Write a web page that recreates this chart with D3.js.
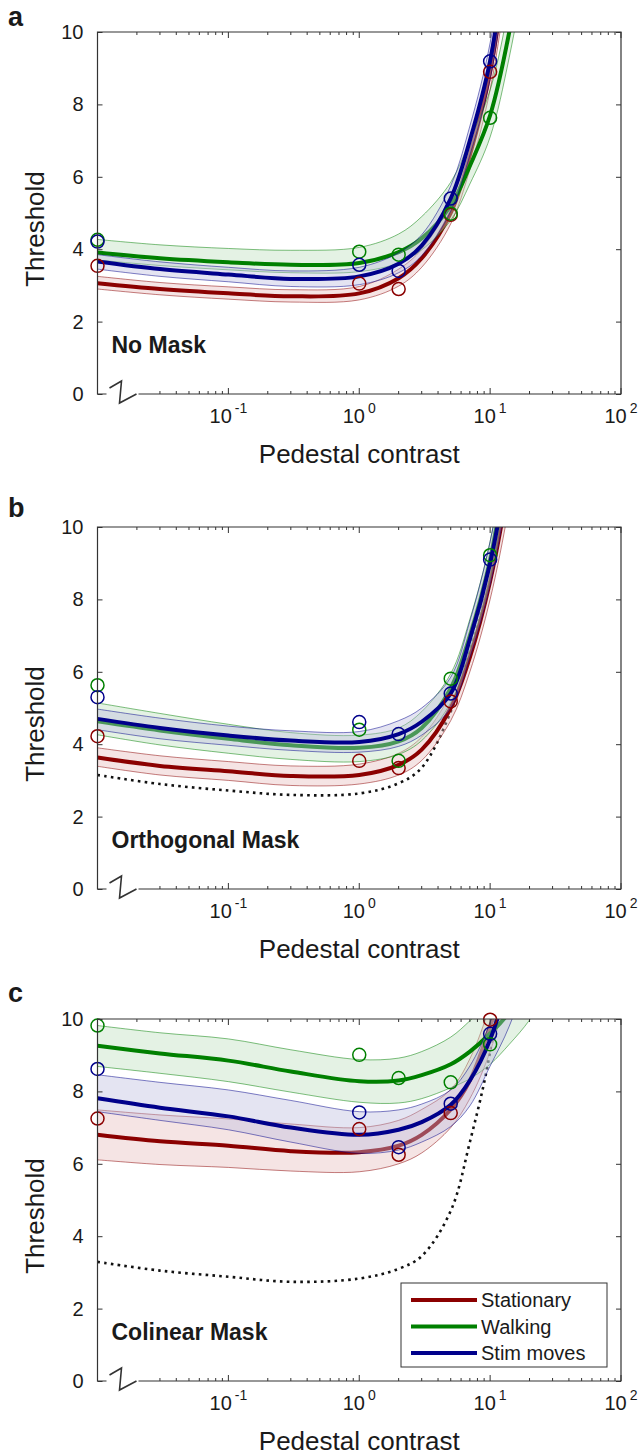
<!DOCTYPE html>
<html>
<head>
<meta charset="utf-8">
<script src="https://cdn.jsdelivr.net/npm/d3@7"></script>
<style>
  body { margin: 0; background: #fff; }
  svg text { font-family: "Liberation Sans", Arial, Helvetica, sans-serif; fill: #1a1a1a; }
</style>
</head>
<body>
<div id="chart"></div>
<script>
const contrasts = [0.01, 0.03, 0.1, 0.3, 1, 2, 3, 5, 7, 10, 14, 20, 30];
// pedestal contrasts of the measured points (0 sits on the left edge)
const pedestals = [0, 1, 2, 5, 10];
const conditions = ["Stationary", "Walking", "Stim moves"];
const panelLetters = ["a", "b", "c"];
const panelTitles = ["No Mask", "Orthogonal Mask", "Colinear Mask"];
const yTicks = [0, 2, 4, 6, 8, 10];
const xTickExps = [-1, 0, 1, 2];

// series order in each panel: Stationary, Walking, Stim moves
// panel a - no mask
const aMean = [
    [3.06, 2.9, 2.78, 2.7, 2.78, 3.2, 3.75, 5.0, 6.6, 8.9, 12.5, 17, 24],
    [3.91, 3.75, 3.64, 3.57, 3.62, 3.92, 4.3, 5.2, 6.3, 7.7, 10.0, 13.5, 19],
    [3.66, 3.45, 3.3, 3.18, 3.25, 3.6, 4.1, 5.4, 7.0, 9.2, 12.8, 17, 24]
];
const aUpper = [
    [3.25, 3.08, 2.96, 2.88, 2.97, 3.45, 4.0, 5.3, 7.0, 9.4, 13.2, 18, 25],
    [4.27, 4.12, 4.02, 3.97, 4.05, 4.42, 4.9, 5.85, 7.0, 8.4, 10.8, 14.5, 20],
    [3.85, 3.65, 3.5, 3.4, 3.5, 3.9, 4.4, 5.75, 7.4, 9.7, 13.4, 18, 25]
];
const aLower = [
    [2.9, 2.74, 2.62, 2.54, 2.6, 2.98, 3.5, 4.7, 6.2, 8.4, 11.8, 16, 23],
    [3.7, 3.55, 3.43, 3.35, 3.38, 3.62, 3.98, 4.8, 5.8, 7.1, 9.3, 12.5, 18],
    [3.45, 3.25, 3.1, 2.97, 3.02, 3.35, 3.82, 5.05, 6.6, 8.7, 12.2, 16, 23]
];
const aPoints = [
    [3.54, 3.05, 2.90, 4.95, 8.90],
    [4.26, 3.93, 3.85, 4.98, 7.63],
    [4.21, 3.57, 3.40, 5.40, 9.19]
];

// panel b - orthogonal mask
const bMean = [
    [3.63, 3.4, 3.25, 3.12, 3.15, 3.43, 3.85, 5.0, 6.4, 8.5, 11.3, 15, 21],
    [4.63, 4.38, 4.15, 3.97, 3.9, 4.08, 4.45, 5.55, 7.0, 9.1, 12.2, 16, 22],
    [4.7, 4.45, 4.24, 4.1, 4.06, 4.28, 4.62, 5.4, 6.9, 9.0, 11.9, 15.5, 21]
];
const bUpper = [
    [3.9, 3.68, 3.52, 3.4, 3.45, 3.75, 4.2, 5.4, 6.9, 9.1, 12.1, 16, 22],
    [5.14, 4.85, 4.55, 4.32, 4.25, 4.45, 4.9, 5.95, 7.45, 9.6, 12.9, 17, 23],
    [4.97, 4.72, 4.5, 4.37, 4.35, 4.65, 5.0, 5.85, 7.4, 9.6, 12.6, 16.5, 22]
];
const bLower = [
    [3.39, 3.15, 3.0, 2.86, 2.9, 3.15, 3.55, 4.65, 6.0, 8.0, 10.6, 14, 20],
    [4.26, 3.98, 3.75, 3.58, 3.52, 3.72, 4.1, 5.15, 6.6, 8.6, 11.6, 15, 21],
    [4.4, 4.15, 3.97, 3.83, 3.78, 3.94, 4.25, 5.0, 6.4, 8.4, 11.2, 14.5, 20]
];
const bPoints = [
    [4.22, 3.54, 3.34, 5.18, null],
    [5.63, 4.40, 3.54, 5.81, 9.22],
    [5.30, 4.61, 4.28, 5.40, 9.10]
];
const bDotted = [3.15, 2.9, 2.72, 2.6, 2.64, 2.92, 3.35, 4.9, 6.6, 9.0, 13, 18, 26];

// panel c - colinear mask
const cMean = [
    [6.8, 6.62, 6.5, 6.35, 6.32, 6.5, 6.8, 7.5, 8.3, 9.8, 11.5, 15, 21],
    [9.26, 9.05, 8.85, 8.55, 8.28, 8.3, 8.45, 8.75, 9.1, 9.6, 10.2, 11.5, 14],
    [7.81, 7.55, 7.31, 7.0, 6.8, 6.94, 7.15, 7.63, 8.3, 9.43, 11.2, 14, 18]
];
const cUpper = [
    [7.49, 7.35, 7.24, 7.1, 7.0, 7.2, 7.5, 8.05, 8.9, 10.4, 12.5, 16, 22],
    [9.82, 9.62, 9.45, 9.15, 8.88, 8.92, 9.1, 9.5, 9.95, 10.5, 11.3, 12.5, 15],
    [8.46, 8.25, 8.04, 7.75, 7.44, 7.49, 7.65, 8.04, 8.7, 9.9, 11.8, 15, 19]
];
const cLower = [
    [6.11, 5.98, 5.9, 5.8, 5.78, 6.0, 6.3, 7.0, 7.8, 9.1, 11.0, 14, 20],
    [8.69, 8.5, 8.27, 7.98, 7.7, 7.68, 7.8, 8.1, 8.35, 8.75, 9.3, 9.97, 11],
    [7.44, 7.2, 6.94, 6.6, 6.29, 6.38, 6.6, 7.03, 7.6, 8.7, 9.8, 11.5, 15]
];
const cPoints = [
    [7.25, 6.96, 6.25, 7.40, 9.98],
    [9.82, 9.01, 8.37, 8.25, 9.30],
    [8.62, 7.42, 6.46, 7.66, 9.59]
];
const cDotted = [3.29, 3.05, 2.88, 2.74, 2.83, 3.1, 3.45, 4.7, 6.6, 9.1, 13.5, 20, 30];

const panels = [
    { mean: aMean, upper: aUpper, lower: aLower, points: aPoints, dotted: null },
    { mean: bMean, upper: bUpper, lower: bLower, points: bPoints, dotted: bDotted },
    { mean: cMean, upper: cUpper, lower: cLower, points: cPoints, dotted: cDotted }
];

const colors = ["#8b0000", "#008000", "#00008b"];
const bandFills = ["#e6bbbb", "#bbdebb", "#bbbbde"];

const svgWidth = 639;
const svgHeight = 1455;
const plotLeft = 97.5;
const plotRight = 621;
const panelTops = [32, 527, 1019];
const letterBaselines = [26, 517, 1002];
const plotHeight = 362;
const axisColor = "#333";

const svg = d3.select("#chart")
    .append("svg")
    .attr("width", svgWidth)
    .attr("height", svgHeight);

const x = d3.scaleLog()
    .domain([0.01, 100])
    .range([plotLeft, plotRight]);

// pedestal 0 is drawn at the left edge of the log axis
const xPed = p => p === 0 ? x(x.domain()[0]) : x(p);

const majorTicks = [0.1, 1, 10, 100];
const minorTicks = [];
[-2, -1, 0, 1].forEach(e => {
    for (let m = 2; m <= 9; m++) minorTicks.push(m * Math.pow(10, e));
});

panels.forEach((panel, i) => {
    const top = panelTops[i];
    const bottom = top + plotHeight;
    const y = d3.scaleLinear().domain([0, 10]).range([bottom, top]);
    const g = svg.append("g");

    svg.append("clipPath")
        .attr("id", "clip" + i)
        .append("rect")
        .attr("x", plotLeft)
        .attr("y", top)
        .attr("width", plotRight - plotLeft)
        .attr("height", plotHeight);

    const lineGen = d3.line()
        .x((d, j) => x(contrasts[j]))
        .y(d => y(d))
        .curve(d3.curveCatmullRom.alpha(0.5));

    const areaGen = d3.area()
        .x(d => x(d.c))
        .y0(d => y(d.lo))
        .y1(d => y(d.hi))
        .curve(d3.curveCatmullRom.alpha(0.5));

    const curves = g.append("g").attr("clip-path", `url(#clip${i})`);

    // reference (dotted) curve
    if (panel.dotted) {
        curves.append("path")
            .datum(panel.dotted)
            .attr("d", lineGen)
            .attr("fill", "none")
            .attr("stroke", "#111")
            .attr("stroke-width", 2.6)
            .attr("stroke-dasharray", "2.6 4.2");
    }

    conditions.forEach((name, s) => {
        const band = contrasts.map((c, j) => ({ c: c, lo: panel.lower[s][j], hi: panel.upper[s][j] }));
        curves.append("path")
            .datum(band)
            .attr("d", areaGen)
            .attr("fill", bandFills[s])
            .attr("fill-opacity", 0.4);

        [panel.upper[s], panel.lower[s]].forEach(edge => {
            curves.append("path")
                .datum(edge)
                .attr("d", lineGen)
                .attr("fill", "none")
                .attr("stroke", colors[s])
                .attr("stroke-opacity", 0.5)
                .attr("stroke-width", 1);
        });

        curves.append("path")
            .datum(panel.mean[s])
            .attr("d", lineGen)
            .attr("fill", "none")
            .attr("stroke", colors[s])
            .attr("stroke-width", 4);

        g.selectAll(null)
            .data(pedestals.map((p, j) => ({ p: p, v: panel.points[s][j] })).filter(d => d.v != null))
            .enter()
            .append("circle")
            .attr("cx", d => xPed(d.p))
            .attr("cy", d => y(d.v))
            .attr("r", 6.5)
            .attr("fill", "none")
            .attr("stroke", colors[s])
            .attr("stroke-width", 1.5);
    });

    // frame (bottom edge has a break near the zero pedestal)
    const frame = g.append("g")
        .attr("fill", "none")
        .attr("stroke", axisColor)
        .attr("stroke-width", 1.2);
    frame.append("path")
        .attr("d", `M${plotLeft + 9},${bottom} L${plotLeft},${bottom} L${plotLeft},${top} L${plotRight},${top} L${plotRight},${bottom} L${plotLeft + 41},${bottom}`);
    frame.append("path")
        .attr("stroke-width", 1.6)
        .attr("d", `M${plotLeft + 12},${bottom - 6} L${plotLeft + 24},${bottom - 13} L${plotLeft + 22},${bottom + 9} L${plotLeft + 39},${bottom}`);

    // ticks pointing inward on all four sides
    const ticks = g.append("g").attr("stroke", axisColor).attr("stroke-width", 1);
    majorTicks.forEach(v => {
        ticks.append("line").attr("x1", x(v)).attr("x2", x(v)).attr("y1", bottom).attr("y2", bottom - 6);
        ticks.append("line").attr("x1", x(v)).attr("x2", x(v)).attr("y1", top).attr("y2", top + 6);
    });
    minorTicks.forEach(v => {
        if (x(v) > plotLeft + 41) {
            ticks.append("line").attr("x1", x(v)).attr("x2", x(v)).attr("y1", bottom).attr("y2", bottom - 3);
        }
        ticks.append("line").attr("x1", x(v)).attr("x2", x(v)).attr("y1", top).attr("y2", top + 3);
    });

    const yAxis = g.append("g")
        .attr("transform", `translate(${plotLeft},0)`)
        .call(d3.axisLeft(y).tickValues(yTicks).tickSize(-5).tickPadding(14).tickFormat(d3.format("d")));
    yAxis.select(".domain").remove();
    yAxis.selectAll(".tick line").attr("stroke", axisColor);
    yAxis.selectAll(".tick text")
        .style("font-size", "20px")
        .attr("fill", "#1a1a1a");

    const yAxisRight = g.append("g")
        .attr("transform", `translate(${plotRight},0)`)
        .call(d3.axisRight(y).tickValues(yTicks).tickSize(-5).tickFormat(""));
    yAxisRight.select(".domain").remove();
    yAxisRight.selectAll(".tick line").attr("stroke", axisColor);

    // x tick labels as powers of ten
    xTickExps.forEach(e => {
        const t = g.append("text")
            .attr("x", x(Math.pow(10, e)))
            .attr("y", bottom + 29)
            .attr("text-anchor", "middle")
            .style("font-size", "20px");
        t.append("tspan").text("10");
        t.append("tspan")
            .attr("dx", "3")
            .attr("dy", "-10")
            .style("font-size", "14px")
            .text(e < 0 ? "-" + Math.abs(e) : String(e));
    });

    g.append("text")
        .attr("x", (plotLeft + plotRight) / 2)
        .attr("y", bottom + 69)
        .attr("text-anchor", "middle")
        .style("font-size", "26px")
        .text("Pedestal contrast");

    g.append("text")
        .attr("transform", `translate(44,${top + plotHeight / 2 + 16}) rotate(-90)`)
        .attr("text-anchor", "middle")
        .style("font-size", "26px")
        .text("Threshold");

    g.append("text")
        .attr("x", plotLeft + 14)
        .attr("y", bottom - 41)
        .style("font-size", "23px")
        .style("font-weight", "bold")
        .text(panelTitles[i]);

    g.append("text")
        .attr("x", 8)
        .attr("y", letterBaselines[i])
        .style("font-size", "27px")
        .style("font-weight", "bold")
        .text(panelLetters[i]);
});

// legend in the last panel
function drawLegend() {
    const boxX = 401, boxY = 1283, boxW = 206, boxH = 84;
    const lg = svg.append("g");
    lg.append("rect")
        .attr("x", boxX)
        .attr("y", boxY)
        .attr("width", boxW)
        .attr("height", boxH)
        .attr("fill", "#fff")
        .attr("stroke", axisColor)
        .attr("stroke-width", 1);
    conditions.forEach((name, s) => {
        const yPos = boxY + 17 + s * 26.5;
        lg.append("line")
            .attr("x1", boxX + 10)
            .attr("x2", boxX + 76)
            .attr("y1", yPos)
            .attr("y2", yPos)
            .attr("stroke", colors[s])
            .attr("stroke-width", 4);
        lg.append("text")
            .attr("x", boxX + 80)
            .attr("y", yPos + 7)
            .style("font-size", "20px")
            .text(name);
    });
}

drawLegend();
</script>
</body>
</html>
